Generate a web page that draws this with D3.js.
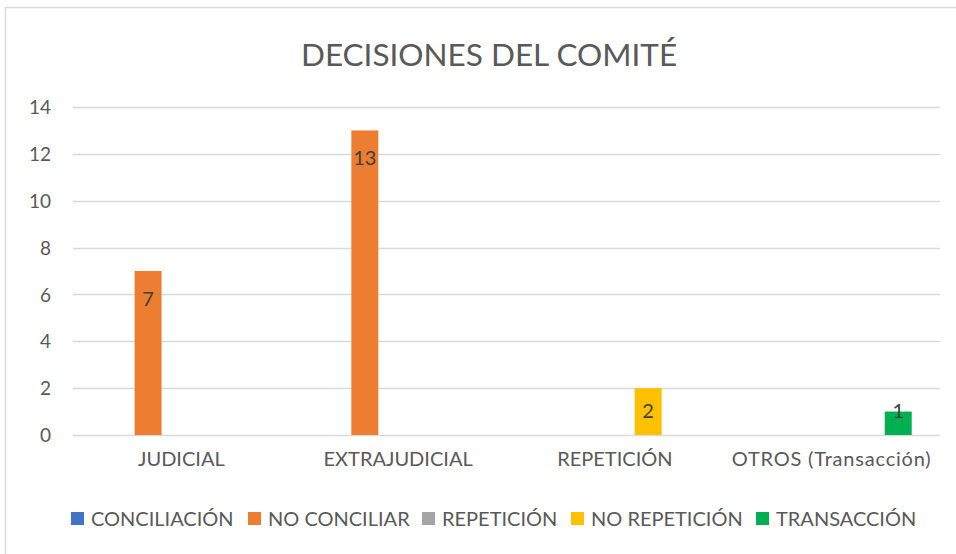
<!DOCTYPE html>
<html>
<head>
<meta charset="utf-8">
<script src="https://cdn.jsdelivr.net/npm/d3@7"></script>
<style>
  body { margin: 0; background: #fff; }
  svg text { font-family: Lato, "Open Sans", sans-serif; fill: #595959; }
</style>
</head>
<body>
<div id="chart"></div>
<script>
"use strict";
// chart data
const categories = ["JUDICIAL", "EXTRAJUDICIAL", "REPETICIÓN", "OTROS (Transacción)"];
const seriesNames = ["CONCILIACIÓN", "NO CONCILIAR", "REPETICIÓN", "NO REPETICIÓN", "TRANSACCIÓN"];
const seriesColors = ["#4472C4", "#ED7D31", "#A5A5A5", "#FFC000", "#00B050"];
// one row per series, one value per category (null = no bar)
const conciliacion = [null, null, null, null];
const noConciliar = [7, 13, null, null];
const repeticion = [null, null, null, null];
const noRepeticion = [null, null, 2, null];
const transaccion = [null, null, null, 1];
const yTicks = [0, 2, 4, 6, 8, 10, 12, 14];
const chartTitle = "DECISIONES DEL COMITÉ";

const seriesValues = [conciliacion, noConciliar, repeticion, noRepeticion, transaccion];

let width = 956, height = 554;
let plot = { left: 73, right: 940, top: 107, bottom: 435 };

let svg = d3.select("#chart").append("svg")
    .attr("width", width)
    .attr("height", height);

// outer chart border
svg.append("rect")
    .attr("x", 5.5).attr("y", 7.5)
    .attr("width", 970).attr("height", 570)
    .attr("fill", "#fff")
    .attr("stroke", "#D9D9D9")
    .attr("stroke-width", 1.5);

// title
svg.append("text")
    .attr("x", 489).attr("y", 66)
    .attr("text-anchor", "middle")
    .style("font-size", "31.5px")
    .text(chartTitle);

let x = d3.scaleBand()
    .domain(categories)
    .range([plot.left, plot.right]);

let xSub = d3.scaleBand()
    .domain(seriesNames)
    .range([-83.25, 83.25])
    .paddingInner(0.19)
    .paddingOuter(0.095);

let y = d3.scaleLinear()
    .domain([0, 14])
    .range([plot.bottom, plot.top]);

// gridlines
svg.append("g")
    .selectAll("line")
    .data(yTicks)
    .enter()
    .append("line")
    .attr("x1", plot.left).attr("x2", plot.right)
    .attr("y1", d => Math.round(y(d)) + 0.5)
    .attr("y2", d => Math.round(y(d)) + 0.5)
    .attr("stroke", "#D9D9D9")
    .attr("stroke-width", 1.5);

// y axis labels
let yAxis = svg.append("g")
    .attr("transform", "translate(" + (plot.left - 22) + ",0)")
    .call(d3.axisLeft(y).tickValues(yTicks).tickSize(0).tickPadding(0));
yAxis.select(".domain").remove();
yAxis.selectAll("text")
    .attr("dy", "0.35em")
    .style("font-size", "19px")
    .style("font-family", "Lato, sans-serif")
    .attr("fill", "#595959");

// x axis labels
let xAxis = svg.append("g")
    .attr("transform", "translate(0," + plot.bottom + ")")
    .call(d3.axisBottom(x).tickSize(0).tickPadding(24));
xAxis.select(".domain").remove();
xAxis.selectAll("text")
    .attr("dy", "0.35em")
    .style("font-size", "20px")
    .style("font-family", "Lato, sans-serif")
    .style("letter-spacing", d => d === categories[3] ? "0.8px" : null)
    .attr("fill", "#595959");

// bars
let barData = [];
seriesValues.forEach((vals, si) => {
    vals.forEach((v, ci) => {
        if (v !== null) barData.push({ series: seriesNames[si], color: seriesColors[si], cat: categories[ci], value: v });
    });
});

let bx = d => x(d.cat) + x.bandwidth() / 2 + xSub(d.series);

svg.append("g")
    .selectAll("rect")
    .data(barData)
    .enter()
    .append("rect")
    .attr("x", d => bx(d))
    .attr("y", d => y(d.value))
    .attr("width", xSub.bandwidth())
    .attr("height", d => y(0) - y(d.value))
    .attr("fill", d => d.color);

// data labels (inside end)
svg.append("g")
    .selectAll("text")
    .data(barData)
    .enter()
    .append("text")
    .attr("x", d => bx(d) + xSub.bandwidth() / 2)
    .attr("y", d => Math.min(y(d.value) + 35, y(0) - 17))
    .attr("text-anchor", "middle")
    .style("font-size", "20px")
    .style("fill", "#404040")
    .text(d => d.value);

// legend
let legendX = [71, 248, 422, 571, 756];
let legend = svg.append("g")
    .selectAll("g")
    .data(seriesNames)
    .enter()
    .append("g")
    .attr("transform", (d, i) => "translate(" + legendX[i] + ",512)");
legend.append("rect")
    .attr("width", 13).attr("height", 13)
    .attr("fill", (d, i) => seriesColors[i]);
legend.append("text")
    .attr("x", 20).attr("y", 14)
    .style("font-size", "20px")
    .text(d => d);
</script>
</body>
</html>
